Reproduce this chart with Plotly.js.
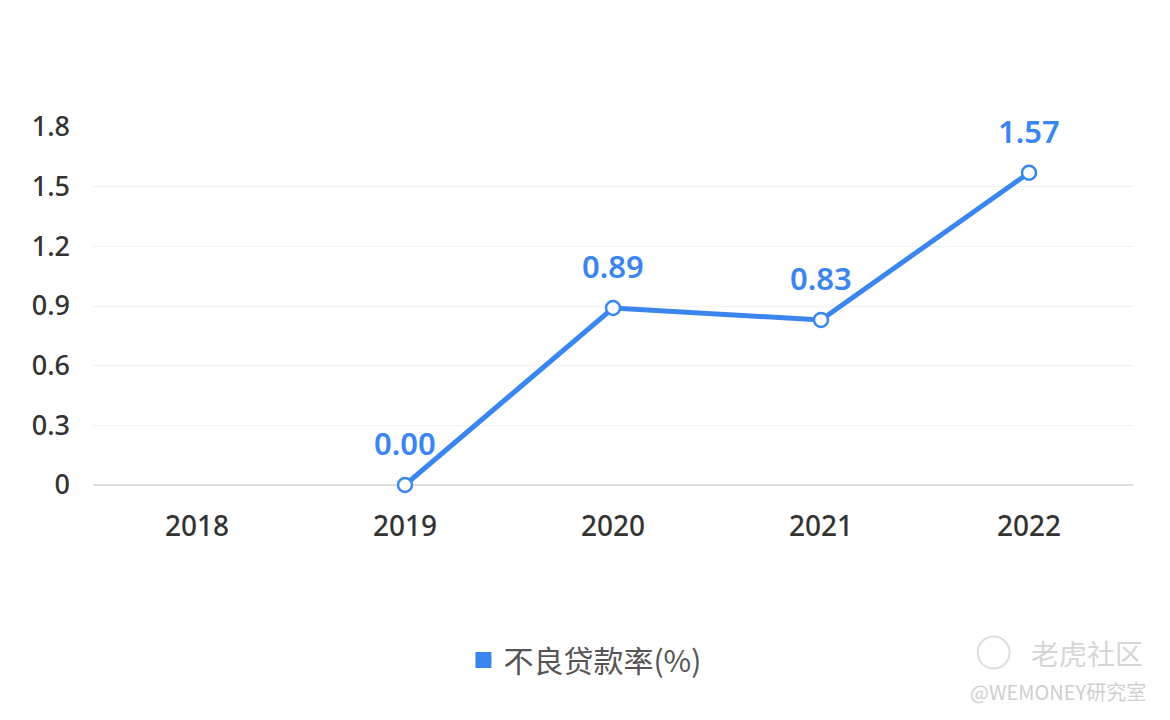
<!DOCTYPE html>
<html>
<head>
<meta charset="utf-8">
<script src="https://cdn.plot.ly/plotly-3.0.1.min.js"></script>
<style>html,body{margin:0;padding:0;background:#fff;}#chart{width:1170px;height:720px;}</style>
</head>
<body>
<div id="chart"></div>
<script>
const years = ['2018', '2019', '2020', '2021', '2022'];
const nplRate = [null, 0.00, 0.89, 0.83, 1.57];
const seriesName = '不良贷款率(%)';
const yTicks = [0, 0.3, 0.6, 0.9, 1.2, 1.5, 1.8];

const blue = '#3b86ee';
const numFont = 'Noto Sans, Roboto, sans-serif';

const labelAnnotations = [];
nplRate.forEach((v, i) => {
  if (v === null) return;
  labelAnnotations.push({
    x: i, y: v, xref: 'x', yref: 'y',
    text: v.toFixed(2), showarrow: false, yshift: 42,
    font: {family: numFont, size: 31, color: blue, weight: 600}
  });
});

const traces = [
  {
    x: years, y: nplRate, type: 'scatter', mode: 'lines+markers',
    line: {color: blue, width: 5},
    marker: {size: 14, color: '#ffffff', line: {color: blue, width: 2.5}},
    showlegend: false, cliponaxis: false, connectgaps: false, hoverinfo: 'skip'
  },
  {
    x: [null], y: [null], type: 'scatter', mode: 'markers', name: seriesName,
    marker: {symbol: 'square', size: 20, color: blue}, showlegend: true
  }
];

const layout = {
  width: 1170, height: 720,
  margin: {l: 93, r: 37, t: 127, b: 235},
  paper_bgcolor: '#fff', plot_bgcolor: '#fff',
  showlegend: true,
  legend: {
    orientation: 'h', x: 0.473, xanchor: 'center', y: -0.489, yanchor: 'middle',
    font: {family: 'Noto Sans CJK SC, sans-serif', size: 30, color: '#555'},
    itemwidth: 30, itemsizing: 'trace'
  },
  xaxis: {
    type: 'category', range: [-0.5, 4.5], showgrid: false, zeroline: false,
    showline: false, ticks: '', ticklen: 0, ticklabelstandoff: 22,
    tickfont: {family: numFont, size: 28, color: '#333', weight: 500}
  },
  yaxis: {
    range: [0, 1.8], tickvals: yTicks, ticktext: yTicks.map(v => String(v)),
    showgrid: true, gridcolor: '#f2f2f2', gridwidth: 1,
    zeroline: true, zerolinecolor: '#dcdcdc', zerolinewidth: 2,
    showline: false, ticks: '', ticklen: 0, ticklabelstandoff: 22,
    tickfont: {family: numFont, size: 27, color: '#333', weight: 500}
  },
  annotations: labelAnnotations.concat([
    {xref: 'paper', yref: 'paper', x: 1.0115, xanchor: 'right', y: -0.468, yanchor: 'middle',
     text: '老虎社区', showarrow: false, font: {family: 'Noto Sans CJK SC, sans-serif', size: 28, color: '#d6d6d6'}},
    {xref: 'paper', yref: 'paper', x: 1.0144, xanchor: 'right', y: -0.578, yanchor: 'middle',
     text: '@WEMONEY研究室', showarrow: false, font: {family: 'Noto Sans CJK SC, sans-serif', size: 20, color: '#cfcfcf'}}
  ]),
  shapes: [
    {type: 'circle', xref: 'paper', yref: 'paper', xsizemode: 'pixel', ysizemode: 'pixel',
     xanchor: 0.866, yanchor: -0.468, x0: -16, x1: 16, y0: -16, y1: 16,
     line: {color: '#dedede', width: 2}}
  ]
};

Plotly.newPlot('chart', traces, layout, {displayModeBar: false, staticPlot: true});
</script>
</body>
</html>
